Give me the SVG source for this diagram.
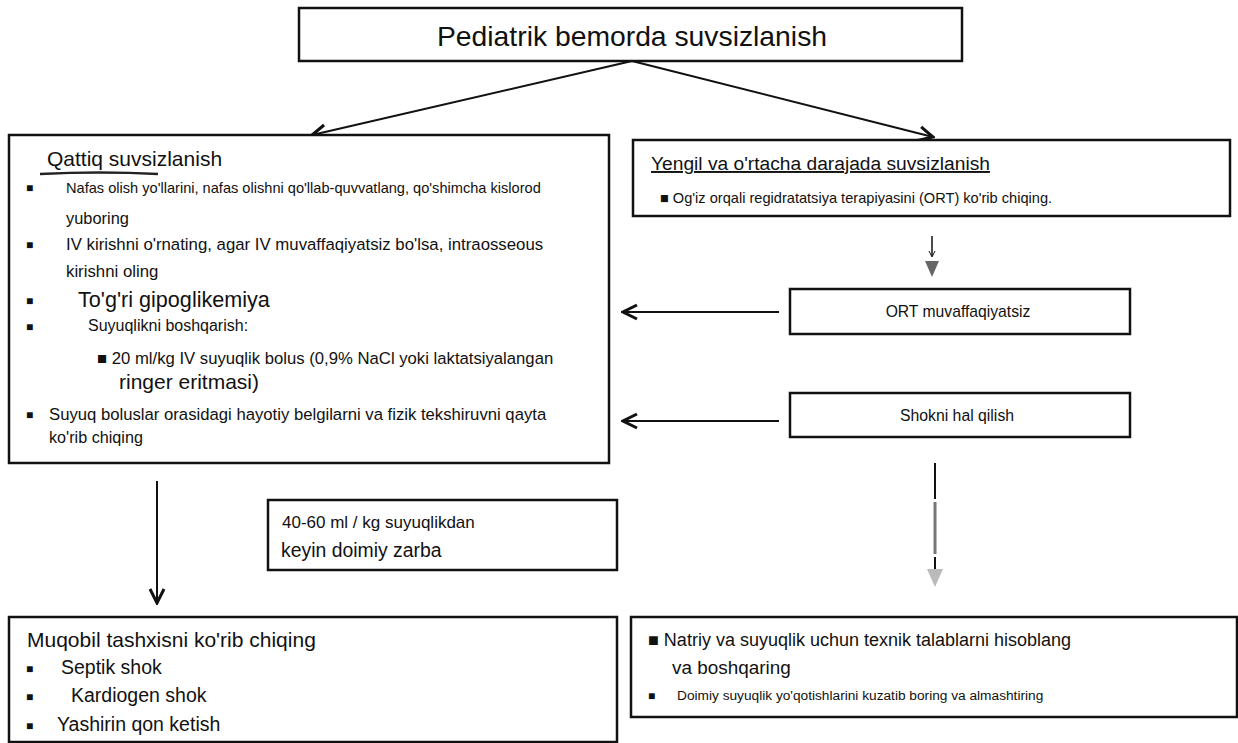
<svg xmlns="http://www.w3.org/2000/svg" width="1238" height="743" viewBox="0 0 1238 743">
<defs>
<style>
text{font-family:"Liberation Sans",Arial,sans-serif;fill:#111}
.box{fill:#fff;stroke:#111;stroke-width:2.5}
.conn{stroke:#111;stroke-width:2;fill:none}
.b{font-size:12px}
</style>
<marker id="ah" viewBox="0 0 20 20" refX="18" refY="10" markerWidth="20" markerHeight="20" markerUnits="userSpaceOnUse" orient="auto">
<path d="M4,3 L18,10 L4,17" fill="none" stroke="#111" stroke-width="3"/>
</marker>
</defs>
<rect width="1238" height="743" fill="#fff"/>
<g id="connectors">
<line class="conn" x1="632" y1="61" x2="312" y2="135" marker-end="url(#ah)"/>
<line class="conn" x1="632" y1="61" x2="933" y2="137" marker-end="url(#ah)"/>
<line class="conn" x1="779" y1="312" x2="623" y2="312" marker-end="url(#ah)"/>
<line class="conn" x1="779" y1="421" x2="623" y2="421" marker-end="url(#ah)"/>
<line class="conn" x1="157" y1="481" x2="157" y2="603" marker-end="url(#ah)"/>
<line x1="932" y1="236" x2="932" y2="256" stroke="#111" stroke-width="1.5"/>
<path d="M929,251 L932,257 L935,251" fill="none" stroke="#111" stroke-width="1"/>
<path d="M925,261 L939,261 L932,277 Z" fill="#666"/>
<line x1="935" y1="463" x2="935" y2="499" stroke="#111" stroke-width="2"/>
<line x1="935" y1="502" x2="935" y2="554" stroke="#777" stroke-width="3"/>
<line x1="935" y1="557" x2="935" y2="569" stroke="#111" stroke-width="2"/>
<path d="M927,569 L943,569 L935,587 Z" fill="#bbb"/>
</g>
<g id="top">
<rect class="box" x="299" y="8" width="663" height="53"/>
<text x="632" y="46" font-size="28.3" text-anchor="middle">Pediatrik bemorda suvsizlanish</text>
</g>
<g id="severe">
<rect class="box" x="9" y="135" width="600" height="328"/>
<text x="47" y="166" font-size="21">Qattiq suvsizlanish</text>
<path d="M40,174 Q100,171 158,174" stroke="#222" stroke-width="2.5" fill="none"/>
<text class="b" x="26" y="192">■</text>
<text x="66" y="193" font-size="14.6">Nafas olish yo'llarini, nafas olishni qo'llab-quvvatlang, qo'shimcha kislorod</text>
<text x="66" y="224" font-size="16.4">yuboring</text>
<text class="b" x="26" y="249">■</text>
<text x="66" y="250" font-size="16.8">IV kirishni o'rnating, agar IV muvaffaqiyatsiz bo'lsa, intraosseous</text>
<text x="66" y="277" font-size="16.8">kirishni oling</text>
<text class="b" x="26" y="305">■</text>
<text x="78" y="307" font-size="21.6">To'g'ri gipoglikemiya</text>
<text class="b" x="26" y="331">■</text>
<text x="88" y="331" font-size="16">Suyuqlikni boshqarish:</text>
<text x="97" y="364" font-size="16.7">■ 20 ml/kg IV suyuqlik bolus (0,9% NaCl yoki laktatsiyalangan</text>
<text x="119" y="389" font-size="21">ringer eritmasi)</text>
<text class="b" x="26" y="419">■</text>
<text x="49" y="420" font-size="16.7">Suyuq boluslar orasidagi hayotiy belgilarni va fizik tekshiruvni qayta</text>
<text x="49" y="443" font-size="16.2">ko'rib chiqing</text>
</g>
<g id="mild">
<rect class="box" x="633" y="140" width="597" height="76"/>
<text x="651" y="170" font-size="19.2" text-decoration="underline">Yengil va o'rtacha darajada suvsizlanish</text>
<text x="660" y="203" font-size="14.6">■ Og'iz orqali regidratatsiya terapiyasini (ORT) ko'rib chiqing.</text>
</g>
<g id="ortfail">
<rect class="box" x="790" y="289" width="340" height="45"/>
<text x="958" y="317" font-size="15.7" text-anchor="middle">ORT muvaffaqiyatsiz</text>
</g>
<g id="shock">
<rect class="box" x="790" y="393" width="340" height="44"/>
<text x="957" y="421" font-size="15.8" text-anchor="middle">Shokni hal qilish</text>
</g>
<g id="persistent">
<rect class="box" x="268" y="500" width="349" height="70"/>
<text x="282" y="528" font-size="17">40-60 ml / kg suyuqlikdan</text>
<text x="281" y="557" font-size="19.4">keyin doimiy zarba</text>
</g>
<g id="differential">
<rect class="box" x="9" y="617" width="608" height="125"/>
<text x="27" y="647" font-size="21">Muqobil tashxisni ko'rib chiqing</text>
<text class="b" x="26" y="673">■</text>
<text x="61" y="674" font-size="19.5">Septik shok</text>
<text class="b" x="26" y="701">■</text>
<text x="71" y="702" font-size="19.5">Kardiogen shok</text>
<text class="b" x="26" y="730">■</text>
<text x="57" y="731" font-size="19.5">Yashirin qon ketish</text>
</g>
<g id="maintenance">
<rect class="box" x="631" y="617" width="606" height="100"/>
<text x="648" y="646" font-size="18">■ Natriy va suyuqlik uchun texnik talablarni hisoblang</text>
<text x="672" y="674" font-size="18.9">va boshqaring</text>
<text class="b" x="648" y="700">■</text>
<text x="677" y="700" font-size="13.7">Doimiy suyuqlik yo'qotishlarini kuzatib boring va almashtiring</text>
</g>
</svg>
